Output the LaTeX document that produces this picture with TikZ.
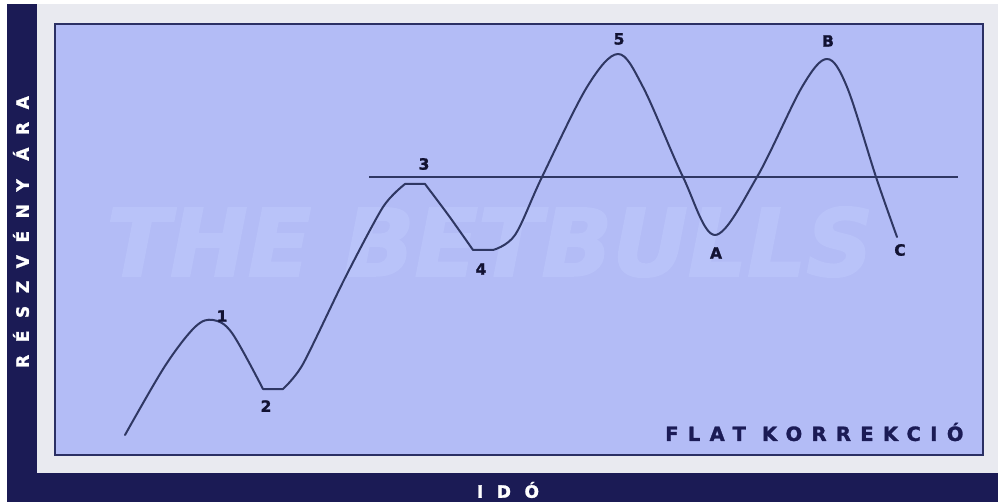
\documentclass[tikz,border=0pt]{standalone}
\usepackage{fontspec}
\setmainfont{DejaVu Sans}
\definecolor{navy}{HTML}{1B1B55}
\definecolor{pale}{HTML}{E9EAF0}
\definecolor{panel}{HTML}{B3BCF6}
\definecolor{frame}{HTML}{2B3064}
\definecolor{wave}{HTML}{2F3763}
\definecolor{mark}{HTML}{B9C3F9}
\definecolor{ink}{HTML}{121232}
\tikzset{
  curve/.style={draw=wave, line width=2pt, line join=round, line cap=round},
  ptlabel/.style={font=\fontsize{15.5}{15.5}\selectfont\bfseries\addfontfeature{FakeBold=1.5}, text=ink, inner sep=0pt},
  axislabel/.style={text=white, inner sep=0pt},
}
\begin{document}
\begin{tikzpicture}[x=1pt,y=-1pt]
\useasboundingbox (0,0) rectangle (998,502);
\fill[white] (0,0) rectangle (998,502);
\fill[pale] (37,4) rectangle (998,473);
\fill[navy] (7,4) rectangle (37,502);
\fill[navy] (7,473) rectangle (998,502);
\filldraw[fill=panel, draw=frame, line width=2.4pt] (55,24) rectangle (983,455);
% watermark
\node[font=\fontsize{93}{93}\selectfont\bfseries\itshape\addfontfeature{FakeBold=2}, text=mark, inner sep=0pt] (wm) at (490,242) {THE BETBULLS};
% resistance line
\coordinate (l1) at (369,177);
\coordinate (l2) at (958,177);
\draw[draw=wave, line width=2pt] (l1) -- (l2);
% wave
\draw[curve] plot[smooth, tension=0.55] coordinates {(125,435) (165,366) (195,327) (213,320) (232,333) (263,389)}
  -- plot[smooth, tension=0.45] coordinates {(283,389) (303,364) (345,278) (383,207) (405,184)}
  -- plot[smooth, tension=0.5] coordinates {(425,184) (449,216) (473,250)}
  -- plot[smooth, tension=0.55] coordinates {(493,250) (515,235) (542,177) (587,87) (618,54) (643,87) (683,177) (715,235) (757,177) (802,87) (827,59) (847,87) (876,177) (897,237)};
% point labels
\node[ptlabel] (p1) at (222,316) {1};
\node[ptlabel] (p2) at (266,406) {2};
\node[ptlabel] (p3) at (424,164) {3};
\node[ptlabel] (p4) at (481,269) {4};
\node[ptlabel] (p5) at (619,39) {5};
\node[ptlabel] (pA) at (716,253) {A};
\node[ptlabel] (pB) at (828,41) {B};
\node[ptlabel] (pC) at (900,250) {C};
% titles
\node[font=\fontsize{19.5}{19.5}\selectfont\bfseries\addfontfeature{FakeBold=1.5,LetterSpace=48}, text=navy, inner sep=0pt, anchor=west] (flat) at (665,432) {FLAT KORREKCIÓ};
\node[axislabel, rotate=90, font=\fontsize{17}{17}\selectfont\bfseries\addfontfeature{FakeBold=1.5,LetterSpace=74}] (yl) at (21,232) {RÉSZVÉNY ÁRA};
\node[axislabel, font=\fontsize{17}{17}\selectfont\bfseries\addfontfeature{FakeBold=1.5,LetterSpace=80}] (xl) at (508,490) {IDÓ};
\end{tikzpicture}
\end{document}
